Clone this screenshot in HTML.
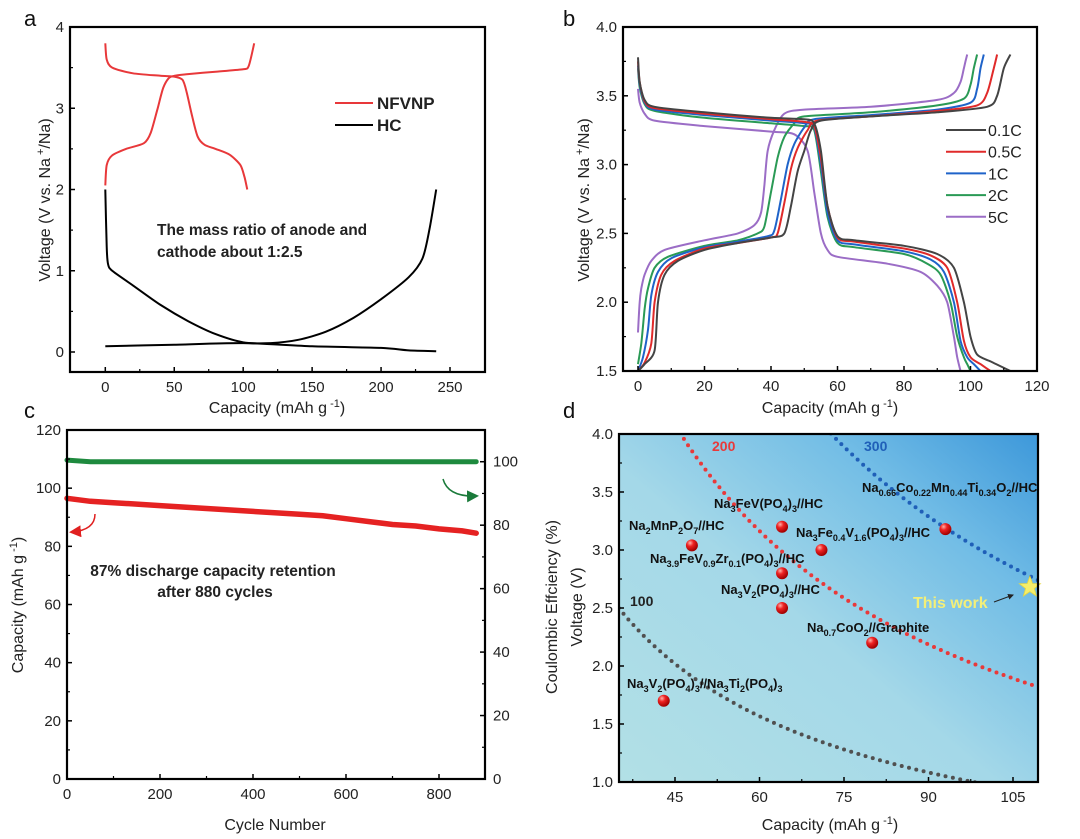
<!DOCTYPE html>
<html><head><meta charset="utf-8"><style>
html,body{margin:0;padding:0;background:#fff}
svg{display:block;font-family:"Liberation Sans",Arial,sans-serif}
</style></head><body>
<svg id="fig" width="1080" height="839" viewBox="0 0 1080 839" xmlns="http://www.w3.org/2000/svg">
<defs>
<linearGradient id="bgd" x1="0" y1="1" x2="1" y2="0">
<stop offset="0" stop-color="#b2e0e6"/><stop offset="0.45" stop-color="#a4d8e8"/><stop offset="0.75" stop-color="#72bde6"/><stop offset="1" stop-color="#3d98da"/>
</linearGradient>
<radialGradient id="ball" cx="0.35" cy="0.3" r="0.7"><stop offset="0" stop-color="#ffb0a8"/><stop offset="0.4" stop-color="#ee2222"/><stop offset="1" stop-color="#a00000"/></radialGradient>
<marker id="arR" markerWidth="8" markerHeight="8" refX="6" refY="4" orient="auto"><path d="M0,0 L8,4 L0,8 z" fill="#e02020"/></marker>
<marker id="arG" markerWidth="8" markerHeight="8" refX="6" refY="4" orient="auto"><path d="M0,0 L8,4 L0,8 z" fill="#1a7a3a"/></marker>
<marker id="arK" markerWidth="6" markerHeight="6" refX="5" refY="3" orient="auto"><path d="M0,0 L6,3 L0,6 z" fill="#222"/></marker>
</defs>
<g id="layer"></g>
</svg>
<script>
// ---------- Panel a data ----------
const aNfvnpChargeX=[0,1,5,15,28,33,38,42,46,50,60,80,100,104,108];
const aNfvnpChargeY=[2.05,2.3,2.42,2.5,2.57,2.7,3.0,3.25,3.37,3.4,3.42,3.45,3.48,3.52,3.8];
const aNfvnpDisX=[0,1,5,20,40,50,56,59,63,67,72,80,90,98,101,103];
const aNfvnpDisY=[3.8,3.6,3.5,3.43,3.4,3.39,3.35,3.2,2.9,2.65,2.55,2.5,2.43,2.3,2.15,2.0];
const aHcDisX=[0,1,2,5,20,40,60,80,100,120,140,160,180,200,220,230,235,240];
const aHcDisY=[2.0,1.3,1.08,1.0,0.82,0.58,0.38,0.22,0.12,0.11,0.15,0.25,0.42,0.65,0.92,1.15,1.5,2.0];
const aHcChgX=[0,50,100,150,200,220,240];
const aHcChgY=[0.07,0.09,0.11,0.07,0.05,0.02,0.01];
const aXTicks=[0,50,100,150,200,250];
const aYTicks=[0,1,2,3,4];
// ---------- Panel b data ----------
const bRates=["0.1C","0.5C","1C","2C","5C"];
const bChgX0=[0,2,5,6,8,12,20,30,40,44,46,48,50,52,55,70,90,105,108,110,112];
const bChgY0=[1.5,1.55,1.65,2.0,2.2,2.3,2.38,2.43,2.47,2.5,2.7,2.95,3.1,3.25,3.32,3.35,3.38,3.42,3.5,3.7,3.8];
const bChgX1=[0,2,4,5,7,11,20,30,40,42,44,46,48,51,54,70,90,102,105,107,108];
const bChgY1=[1.5,1.56,1.7,2.0,2.2,2.3,2.39,2.43,2.47,2.5,2.72,2.97,3.12,3.25,3.32,3.35,3.39,3.43,3.52,3.7,3.8];
const bChgX2=[0,1.5,3,4,6,10,20,30,39,41,43,45,47,50,53,70,90,100,102,103,104];
const bChgY2=[1.5,1.6,1.8,2.05,2.22,2.32,2.4,2.44,2.48,2.52,2.75,3.0,3.15,3.27,3.33,3.36,3.4,3.45,3.55,3.7,3.8];
const bChgX3=[0,1,2,3,5,9,20,30,36,38,40,42,44,47,50,70,90,98,100,101,102];
const bChgY3=[1.55,1.7,1.95,2.1,2.25,2.33,2.41,2.45,2.5,2.55,2.8,3.05,3.2,3.3,3.35,3.38,3.43,3.48,3.58,3.7,3.8];
const bChgX4=[0,0.5,1,2,4,8,20,30,35,37,38,39,41,44,50,70,90,95,97,98,99];
const bChgY4=[1.78,2.0,2.1,2.2,2.3,2.38,2.45,2.5,2.56,2.65,2.85,3.1,3.25,3.37,3.4,3.42,3.47,3.52,3.6,3.7,3.8];
const bDisX0=[0,0.5,2,5,20,40,50,53,55,57,60,65,80,90,95,98,100,102,106,112];
const bDisY0=[3.78,3.6,3.47,3.42,3.38,3.34,3.33,3.3,3.1,2.7,2.48,2.45,2.41,2.35,2.25,2.0,1.75,1.62,1.57,1.5];
const bDisX1=[0,0.5,2,5,20,40,50,53,55,57,60,65,80,88,93,96,98,100,103,106];
const bDisY1=[3.75,3.6,3.46,3.41,3.37,3.33,3.31,3.28,3.05,2.7,2.47,2.44,2.39,2.34,2.25,2.0,1.72,1.6,1.55,1.5];
const bDisX2=[0,0.5,2,5,20,40,50,53,55,57,60,65,80,88,92,95,97,99,101,103];
const bDisY2=[3.72,3.58,3.45,3.4,3.36,3.32,3.3,3.27,3.0,2.65,2.45,2.42,2.37,2.31,2.22,2.0,1.72,1.6,1.55,1.5];
const bDisX3=[0,0.5,2,5,20,40,50,53,55,57,60,65,80,87,91,94,96,98,99,100];
const bDisY3=[3.7,3.56,3.44,3.39,3.34,3.3,3.28,3.25,2.95,2.62,2.43,2.4,2.35,2.28,2.2,2.0,1.75,1.6,1.55,1.5];
const bDisX4=[0,0.5,2,5,20,40,47,51,53,55,57,60,75,85,90,93,95,96,97];
const bDisY4=[3.55,3.45,3.37,3.32,3.28,3.24,3.22,3.1,2.8,2.5,2.38,2.33,2.28,2.22,2.12,2.0,1.75,1.6,1.5];
const bXTicks=[0,20,40,60,80,100,120];
const bYTicks=[1.5,2.0,2.5,3.0,3.5,4.0];
// ---------- Panel c data ----------
const cCycles=[0,50,100,200,300,400,500,550,600,650,700,750,800,850,880];
const cCapacity=[96.5,95.5,95,94,93,92,91,90.5,89.5,88.5,87.5,87,86,85.3,84.5];
const cCE=[100.5,100,100,100,100,100,100,100,100,100,100,100,100,100,100];
const cXTicks=[0,200,400,600,800];
const cYTicks=[0,20,40,60,80,100,120];
const cY2Ticks=[0,20,40,60,80,100];
// ---------- Panel d data ----------
const dIsoLabels=[100,200,300];
const dIsoEnergies=[105,212,319];
const dIsoOffset=[7,7,7];
const dPointsX=[43,48,64,64,64,71,80,93];
const dPointsY=[1.7,3.04,3.2,2.8,2.5,3.0,2.2,3.18];
const dStarX=[108];
const dStarY=[2.68];
const dXTicks=[45,60,75,90,105];
const dYTicks=[1.0,1.5,2.0,2.5,3.0,3.5,4.0];

const NS="http://www.w3.org/2000/svg";
const layer=document.getElementById('layer');
function mk(tag,attrs,parent){const e=document.createElementNS(NS,tag);for(const k in attrs)e.setAttribute(k,attrs[k]);(parent||layer).appendChild(e);return e;}
function lin(d0,d1,r0,r1){return v=>r0+(v-d0)*(r1-r0)/(d1-d0);}
function pathD(xs,ys,sx,sy){return xs.map((x,i)=>(i?'L':'M')+sx(x).toFixed(1)+','+sy(ys[i]).toFixed(1)).join(' ');}
function smoothD(xs,ys,sx,sy){
  const P=xs.map((x,i)=>[sx(x),sy(ys[i])]);
  let d='M'+P[0][0].toFixed(1)+','+P[0][1].toFixed(1);
  for(let i=0;i<P.length-1;i++){
    const p0=P[Math.max(0,i-1)],p1=P[i],p2=P[i+1],p3=P[Math.min(P.length-1,i+2)];
    const t=1/6*0.8;
    const c1=[p1[0]+(p2[0]-p0[0])*t,p1[1]+(p2[1]-p0[1])*t];
    const c2=[p2[0]-(p3[0]-p1[0])*t,p2[1]-(p3[1]-p1[1])*t];
    d+=' C'+c1.map(v=>v.toFixed(1)).join(',')+' '+c2.map(v=>v.toFixed(1)).join(',')+' '+p2[0].toFixed(1)+','+p2[1].toFixed(1);
  }
  return d;
}
function fmt(v,dec){return dec?v.toFixed(dec):String(v);}
function axes(box,sx,sy,xt,yt,dec,name,xminor,yminor){
  const g=mk('g',{});
  
  
  xt.forEach(v=>{const x=sx(v);mk('line',{x1:x,x2:x,y1:box.b,y2:box.b-5,stroke:'#000','stroke-width':1.5},g);
    const t=mk('text',{x:x,y:box.b+20,'font-size':15,'text-anchor':'middle',fill:'#222'},g);t.textContent=fmt(v,0);
    });
  (xminor||[]).forEach(v=>{const x=sx(v);mk('line',{x1:x,x2:x,y1:box.b,y2:box.b-3,stroke:'#000','stroke-width':1.2},g);});
  yt.forEach(v=>{const y=sy(v);mk('line',{x1:box.l,x2:box.l+5,y1:y,y2:y,stroke:'#000','stroke-width':1.5},g);
    const t=mk('text',{x:box.l-6,y:y+5,'font-size':15,'text-anchor':'end',fill:'#222'},g);t.textContent=fmt(v,dec);
    });
  (yminor||[]).forEach(v=>{const y=sy(v);mk('line',{x1:box.l,x2:box.l+3,y1:y,y2:y,stroke:'#000','stroke-width':1.2},g);});
  const r=mk('rect',{x:box.l,y:box.t,width:box.r-box.l,height:box.b-box.t,fill:'none',stroke:'#000','stroke-width':2.2},g);
  
}
function txt(x,y,s,attrs,name){const t=mk('text',Object.assign({x:x,y:y},attrs));t.textContent=s;return t;}
function rtxt(x,y,html,size,name){const t=mk('text',{x:0,y:0,'font-size':size,'text-anchor':'middle',fill:'#222',transform:`translate(${x},${y}) rotate(-90)`});t.innerHTML=html;return t;}

// ===== Panel a =====
(function(){
const box={l:70,r:485,t:27,b:372};
const sx=lin(0,250,105.3,450), sy=lin(0,4,352,27);
const s1=mk('path',{d:smoothD(aNfvnpChargeX,aNfvnpChargeY,sx,sy),fill:'none',stroke:'#e8383a','stroke-width':2});

const s2=mk('path',{d:smoothD(aNfvnpDisX,aNfvnpDisY,sx,sy),fill:'none',stroke:'#e8383a','stroke-width':2});

const s3=mk('path',{d:smoothD(aHcDisX,aHcDisY,sx,sy),fill:'none',stroke:'#000','stroke-width':2});

const s4=mk('path',{d:smoothD(aHcChgX,aHcChgY,sx,sy),fill:'none',stroke:'#000','stroke-width':2});

axes(box,sx,sy,aXTicks,aYTicks,0,'panel-a',[25,75,125,175,225],[0.5,1.5,2.5,3.5]);
const l1=mk('line',{x1:335,x2:373,y1:103,y2:103,stroke:'#e8383a','stroke-width':2});
txt(377,109,'NFVNP',{'font-size':17,'font-weight':'bold',fill:'#222'},'legend-nfvnp-label');
const l2=mk('line',{x1:335,x2:373,y1:125,y2:125,stroke:'#000','stroke-width':2});
txt(377,131,'HC',{'font-size':17,'font-weight':'bold',fill:'#222'},'legend-hc-label');
txt(157,235,'The mass ratio of anode and',{'font-size':15.5,'font-weight':'bold',fill:'#222'},'mass-ratio-annotation-1');
txt(157,257,'cathode about 1:2.5',{'font-size':15.5,'font-weight':'bold',fill:'#222'},'mass-ratio-annotation-2');
txt(277,413,'',{'font-size':16,'text-anchor':'middle',fill:'#222'},'panel-a-x-axis-title').innerHTML='Capacity (mAh g<tspan dy="-6" font-size="11"> -1</tspan><tspan dy="6">)</tspan>';
rtxt(50,200,'Voltage (V vs. Na<tspan dy="-6" font-size="11"> +</tspan><tspan dy="6">/Na)</tspan>',16,'panel-a-y-axis-title');
txt(24,26,'a',{'font-size':22,fill:'#111'},'panel-a-letter');
})();

// ===== Panel b =====
(function(){
const box={l:623,r:1037,t:27,b:371};
const sx=lin(0,120,638,1037), sy=lin(1.5,4.0,371,27);
const colors=['#444444','#e02a2a','#1f63c9','#2a9a55','#9b6dc6'];
const chX=[bChgX0,bChgX1,bChgX2,bChgX3,bChgX4], chY=[bChgY0,bChgY1,bChgY2,bChgY3,bChgY4];
const dX=[bDisX0,bDisX1,bDisX2,bDisX3,bDisX4], dY=[bDisY0,bDisY1,bDisY2,bDisY3,bDisY4];
const clip=mk('clipPath',{id:'clipb'});mk('rect',{x:box.l,y:box.t,width:box.r-box.l,height:box.b-box.t},clip);
const g=mk('g',{'clip-path':'url(#clipb)'});
for(let i=4;i>=0;i--){
 const p1=mk('path',{d:smoothD(chX[i],chY[i],sx,sy),fill:'none',stroke:colors[i],'stroke-width':2},g);
 
 const p2=mk('path',{d:smoothD(dX[i],dY[i],sx,sy),fill:'none',stroke:colors[i],'stroke-width':2},g);
 
}
axes(box,sx,sy,bXTicks,bYTicks,1,'panel-b',[10,30,50,70,90,110],[1.75,2.25,2.75,3.25,3.75]);
bRates.forEach((r,i)=>{const y=130+i*21.7;
 const l=mk('line',{x1:946,x2:986,y1:y,y2:y,stroke:colors[i],'stroke-width':2});
 
 txt(988,y+6,r,{'font-size':16,fill:'#222'},'legend-label-'+r);});
txt(830,413,'',{'font-size':16,'text-anchor':'middle',fill:'#222'},'panel-b-x-axis-title').innerHTML='Capacity (mAh g<tspan dy="-6" font-size="11"> -1</tspan><tspan dy="6">)</tspan>';
rtxt(589,200,'Voltage (V vs. Na<tspan dy="-6" font-size="11"> +</tspan><tspan dy="6">/Na)</tspan>',16,'panel-b-y-axis-title');
txt(563,26,'b',{'font-size':22,fill:'#111'},'panel-b-letter');
})();

// ===== Panel c =====
(function(){
const box={l:67,r:485,t:430,b:779};
const sx=lin(0,900,67,485.5), sy=lin(0,120,779,430), sy2=lin(0,110,779,430);
const ce=mk('path',{d:pathD(cCycles,cCE,sx,sy2),fill:'none',stroke:'#1e8a3e','stroke-width':5,'stroke-linecap':'round'});

const cap=mk('path',{d:pathD(cCycles,cCapacity,sx,sy),fill:'none',stroke:'#e52222','stroke-width':5.5,'stroke-linecap':'round'});

axes(box,sx,sy,cXTicks,cYTicks,0,'panel-c',[100,300,500,700],[10,30,50,70,90,110]);
cY2Ticks.forEach(v=>{const y=sy2(v);mk('line',{x1:box.r,x2:box.r-5,y1:y,y2:y,stroke:'#000','stroke-width':1.5});
 txt(box.r+8,y+5,String(v),{'font-size':15,fill:'#222'},'panel-c-right-tick-label');});
[10,30,50,70,90].forEach(v=>{const y=sy2(v);mk('line',{x1:box.r,x2:box.r-3,y1:y,y2:y,stroke:'#000','stroke-width':1.2});});
const a1=mk('path',{d:'M95,514 Q95,530 72,532',fill:'none',stroke:'#e02020','stroke-width':1.5,'marker-end':'url(#arR)'});

const a2=mk('path',{d:'M443,479 Q448,497 476,496',fill:'none',stroke:'#1a7a3a','stroke-width':1.5,'marker-end':'url(#arG)'});

txt(213,576,'87% discharge capacity retention',{'font-size':15.5,'font-weight':'bold','text-anchor':'middle',fill:'#222'},'retention-annotation-1');
txt(215,597,'after 880 cycles',{'font-size':15.5,'font-weight':'bold','text-anchor':'middle',fill:'#222'},'retention-annotation-2');
txt(275,830,'Cycle Number',{'font-size':16,'text-anchor':'middle',fill:'#222'},'panel-c-x-axis-title');
rtxt(23,605,'Capacity (mAh g<tspan dy="-6" font-size="11"> -1</tspan><tspan dy="6">)</tspan>',16,'panel-c-y-axis-title');
txt(24,418,'c',{'font-size':22,fill:'#111'},'panel-c-letter');
})();

// ===== Panel d =====
(function(){
const box={l:619,r:1038,t:434,b:782};
const sx=lin(45,105,675,1013), sy=lin(1,4,782,434);
const bg=mk('rect',{x:box.l,y:box.t,width:box.r-box.l,height:box.b-box.t,fill:'url(#bgd)'});

const clip=mk('clipPath',{id:'clipd'});mk('rect',{x:box.l,y:box.t,width:box.r-box.l,height:box.b-box.t},clip);
const g=mk('g',{'clip-path':'url(#clipd)'});
const ecol=['#505050','#e8393a','#1f5fb8'];
dIsoEnergies.forEach((E,i)=>{
 const xs=[],ys=[];for(let c=35;c<=110;c+=0.5){xs.push(c);ys.push(E/(c+dIsoOffset[i]));}
 const p=mk('path',{d:pathD(xs,ys,sx,sy),fill:'none',stroke:ecol[i],'stroke-width':4,'stroke-dasharray':'0 7.5','stroke-linecap':'round'},g);
 
});
dPointsX.forEach((x,i)=>{const c=mk('circle',{cx:sx(x),cy:sy(dPointsY[i]),r:6,fill:'url(#ball)'});
 });
dStarX.forEach((x,i)=>{const cx=sx(x),cy=sy(dStarY[i]);let pts=[];
 for(let k=0;k<10;k++){const r=k%2?4.5:11;const a=-Math.PI/2+k*Math.PI/5;pts.push((cx+r*Math.cos(a)).toFixed(1)+','+(cy+r*Math.sin(a)).toFixed(1));}
 const s=mk('polygon',{points:pts.join(' '),fill:'#f4ee6a',stroke:'#e8d840','stroke-width':0.8});
 });
axes(box,sx,sy,dXTicks,dYTicks,1,'panel-d',[37.5,52.5,67.5,82.5,97.5],[1.25,1.75,2.25,2.75,3.25,3.75]);
const sb=(s)=>`<tspan dy="4" font-size="9">${s}</tspan><tspan dy="-4">`;
const labels=[
 [862,492,`Na${sb('0.66')}Co</tspan>${sb('0.22')}Mn</tspan>${sb('0.44')}Ti</tspan>${sb('0.34')}O</tspan>${sb('2')}//HC</tspan>`,'label-na066co'],
 [714,508,`Na${sb('3')}FeV(PO</tspan>${sb('4')})</tspan>${sb('3')}//HC</tspan>`,'label-na3fev'],
 [629,530,`Na${sb('2')}MnP</tspan>${sb('2')}O</tspan>${sb('7')}//HC</tspan>`,'label-na2mnp2o7'],
 [796,537,`Na${sb('3')}Fe</tspan>${sb('0.4')}V</tspan>${sb('1.6')}(PO</tspan>${sb('4')})</tspan>${sb('3')}//HC</tspan>`,'label-na3fe04v16'],
 [650,563,`Na${sb('3.9')}FeV</tspan>${sb('0.9')}Zr</tspan>${sb('0.1')}(PO</tspan>${sb('4')})</tspan>${sb('3')}//HC</tspan>`,'label-na39fev09zr01'],
 [721,594,`Na${sb('3')}V</tspan>${sb('2')}(PO</tspan>${sb('4')})</tspan>${sb('3')}//HC</tspan>`,'label-na3v2po43-hc'],
 [807,632,`Na${sb('0.7')}CoO</tspan>${sb('2')}//Graphite</tspan>`,'label-na07coo2'],
 [627,688,`Na${sb('3')}V</tspan>${sb('2')}(PO</tspan>${sb('4')})</tspan>${sb('3')}//Na</tspan>${sb('3')}Ti</tspan>${sb('2')}(PO</tspan>${sb('4')})</tspan>${sb('3')}</tspan>`,'label-nvp-nti'],
];
labels.forEach(l=>{const t=mk('text',{x:l[0],y:l[1],'font-size':13,'font-weight':'bold',fill:'#111'});t.innerHTML=l[2];
 });
txt(630,606,'100',{'font-size':14,'font-weight':'bold',fill:'#222'},'iso-label-100');
txt(712,451,'200',{'font-size':14,'font-weight':'bold',fill:'#e8393a'},'iso-label-200');
txt(864,451,'300',{'font-size':14,'font-weight':'bold',fill:'#1f5fb8'},'iso-label-300');
txt(913,608,'This work',{'font-size':16,'font-weight':'bold',fill:'#f3ef78'},'this-work-label');
const ar=mk('line',{x1:994,y1:602,x2:1013,y2:595,stroke:'#222','stroke-width':1,'marker-end':'url(#arK)'});

txt(830,830,'',{'font-size':16,'text-anchor':'middle',fill:'#222'},'panel-d-x-axis-title').innerHTML='Capacity (mAh g<tspan dy="-6" font-size="11"> -1</tspan><tspan dy="6">)</tspan>';
rtxt(557,607,'Coulombic Effciency (%)',16,'panel-d-coulombic-title');
rtxt(582,607,'Voltage (V)',16,'panel-d-y-axis-title');
txt(563,418,'d',{'font-size':22,fill:'#111'},'panel-d-letter');
})();
</script>
</body></html>
